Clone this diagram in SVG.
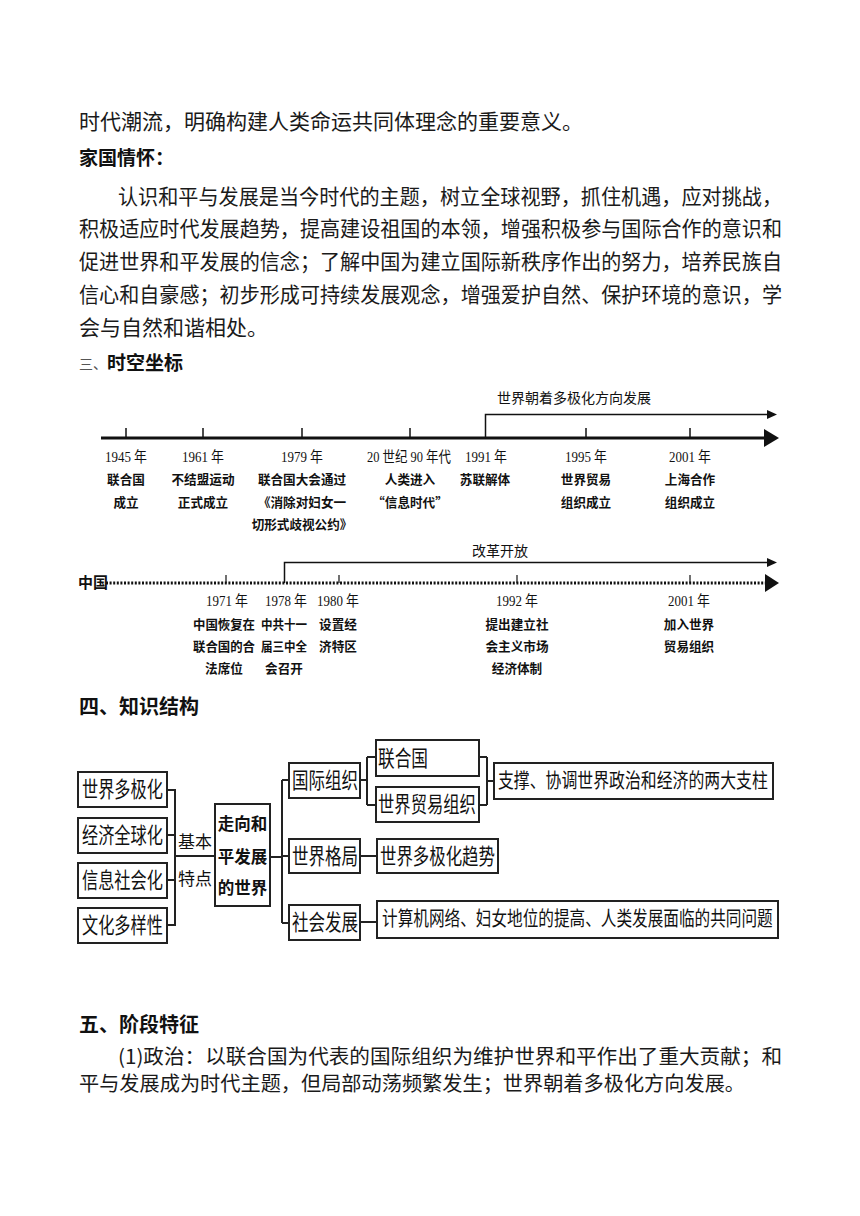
<svg xmlns="http://www.w3.org/2000/svg" width="860" height="1216" viewBox="0 0 860 1216">
<style>
.body{font-family:"Noto Sans CJK SC","Noto Sans",sans-serif;font-size:21px;fill:#1a1a1a}
.head{font-family:"Noto Sans CJK SC","Noto Sans",sans-serif;font-size:20px;font-weight:bold;fill:#111}
.yr{font-family:"Liberation Serif","Noto Sans CJK SC",serif;font-size:15px;fill:#111;text-anchor:middle}
.lb{font-family:"Noto Sans CJK SC",sans-serif;font-size:12.6px;font-weight:bold;fill:#111;text-anchor:middle}
.note{font-family:"Noto Sans CJK SC",sans-serif;font-size:14px;fill:#111;text-anchor:middle}
.bx{fill:#fff;stroke:#222;stroke-width:2}
.bt{font-family:"Noto Sans CJK SC",sans-serif;font-size:22px;fill:#111}
.ln{fill:none;stroke:#222;stroke-width:2}
.ax{fill:none;stroke:#111}
</style>
<rect width="860" height="1216" fill="#fff"/>

<g id="intro-text">
<text class="body" x="79" y="129">时代潮流，明确构建人类命运共同体理念的重要意义。</text>
<text class="head" x="79" y="165" style="font-size:19px">家国情怀：</text>
<text class="body" x="118" y="204" textLength="664" lengthAdjust="spacingAndGlyphs">认识和平与发展是当今时代的主题，树立全球视野，抓住机遇，应对挑战，</text>
<text class="body" x="79" y="236" textLength="703" lengthAdjust="spacingAndGlyphs">积极适应时代发展趋势，提高建设祖国的本领，增强积极参与国际合作的意识和</text>
<text class="body" x="79" y="269" textLength="703" lengthAdjust="spacingAndGlyphs">促进世界和平发展的信念；了解中国为建立国际新秩序作出的努力，培养民族自</text>
<text class="body" x="79" y="302" textLength="703" lengthAdjust="spacingAndGlyphs">信心和自豪感；初步形成可持续发展观念，增强爱护自然、保护环境的意识，学</text>
<text class="body" x="79" y="335">会与自然和谐相处。</text>
</g>

<g id="heading-3">
<text x="79" y="369" style="font-family:'Noto Sans CJK SC',sans-serif;font-size:14px;fill:#555">三、</text>
<text class="head" x="107" y="370" style="font-size:19px">时空坐标</text>
</g>

<g id="world-timeline">
<line class="ax" x1="101" y1="438" x2="766" y2="438" stroke-width="3"/>
<polygon points="764,429 779,438 764,447" fill="#111"/>
<path class="ax" d="M485.5,438 V414.5 H770" stroke-width="1.5"/>
<polygon points="767,410 777,414.5 767,419" fill="#111"/>
<text class="note" x="574" y="403">世界朝着多极化方向发展</text>
<g stroke="#111" stroke-width="1.5">
<line x1="126" y1="428" x2="126" y2="438"/>
<line x1="203" y1="428" x2="203" y2="438"/>
<line x1="302" y1="428" x2="302" y2="438"/>
<line x1="410" y1="428" x2="410" y2="438"/>
<line x1="586" y1="428" x2="586" y2="438"/>
<line x1="690" y1="428" x2="690" y2="438"/>
</g>
</g>
<g id="e1945"><text class="yr" x="126" y="462" textLength="42" lengthAdjust="spacingAndGlyphs">1945 年</text><text class="lb" x="126" y="484">联合国</text><text class="lb" x="126" y="507">成立</text></g>
<g id="e1961"><text class="yr" x="203" y="462" textLength="42" lengthAdjust="spacingAndGlyphs">1961 年</text><text class="lb" x="203" y="484">不结盟运动</text><text class="lb" x="203" y="507">正式成立</text></g>
<g id="e1979"><text class="yr" x="302" y="462" textLength="42" lengthAdjust="spacingAndGlyphs">1979 年</text><text class="lb" x="302" y="484">联合国大会通过</text><text class="lb" x="302" y="507">《消除对妇女一</text><text class="lb" x="302" y="529">切形式歧视公约》</text></g>
<g id="e1990s"><text class="yr" x="409" y="462" textLength="84" lengthAdjust="spacingAndGlyphs">20 世纪 90 年代</text><text class="lb" x="410" y="484">人类进入</text><text class="lb" x="410" y="507">“信息时代”</text></g>
<g id="e1991"><text class="yr" x="486" y="462" textLength="42" lengthAdjust="spacingAndGlyphs">1991 年</text><text class="lb" x="485" y="484">苏联解体</text></g>
<g id="e1995"><text class="yr" x="586" y="462" textLength="42" lengthAdjust="spacingAndGlyphs">1995 年</text><text class="lb" x="586" y="484">世界贸易</text><text class="lb" x="586" y="507">组织成立</text></g>
<g id="e2001w"><text class="yr" x="690" y="462" textLength="42" lengthAdjust="spacingAndGlyphs">2001 年</text><text class="lb" x="690" y="484">上海合作</text><text class="lb" x="690" y="507">组织成立</text></g>

<g id="china-timeline">
<text x="78" y="588" style="font-family:'Noto Sans CJK SC',sans-serif;font-size:15px;font-weight:bold;fill:#111">中国</text>
<line x1="106" y1="583" x2="767" y2="583" stroke="#111" stroke-width="3" stroke-dasharray="2 1.6"/>
<polygon points="765,574 779,583 765,592" fill="#111"/>
<path class="ax" d="M284.5,583 V562.5 H770" stroke-width="1.5"/>
<polygon points="767,558 777,562.5 767,567" fill="#111"/>
<text class="note" x="500" y="556">改革开放</text>
<g stroke="#111" stroke-width="1.2">
<line x1="226" y1="575" x2="226" y2="583"/>
<line x1="339" y1="575" x2="339" y2="583"/>
<line x1="517" y1="575" x2="517" y2="583"/>
<line x1="690" y1="575" x2="690" y2="583"/>
</g>
</g>
<g id="c1971"><text class="yr" x="227" y="606" textLength="42" lengthAdjust="spacingAndGlyphs">1971 年</text><text class="lb" x="224" y="629" textLength="62" lengthAdjust="spacingAndGlyphs">中国恢复在</text><text class="lb" x="224" y="651" textLength="62" lengthAdjust="spacingAndGlyphs">联合国的合</text><text class="lb" x="224" y="673">法席位</text></g>
<g id="c1978"><text class="yr" x="286" y="606" textLength="42" lengthAdjust="spacingAndGlyphs">1978 年</text><text class="lb" x="284" y="629" textLength="46" lengthAdjust="spacingAndGlyphs">中共十一</text><text class="lb" x="284" y="651" textLength="46" lengthAdjust="spacingAndGlyphs">届三中全</text><text class="lb" x="284" y="673">会召开</text></g>
<g id="c1980"><text class="yr" x="338" y="606" textLength="42" lengthAdjust="spacingAndGlyphs">1980 年</text><text class="lb" x="338" y="629">设置经</text><text class="lb" x="338" y="651">济特区</text></g>
<g id="c1992"><text class="yr" x="517" y="606" textLength="42" lengthAdjust="spacingAndGlyphs">1992 年</text><text class="lb" x="517" y="629">提出建立社</text><text class="lb" x="517" y="651">会主义市场</text><text class="lb" x="517" y="673">经济体制</text></g>
<g id="c2001"><text class="yr" x="689" y="606" textLength="42" lengthAdjust="spacingAndGlyphs">2001 年</text><text class="lb" x="689" y="629">加入世界</text><text class="lb" x="689" y="651">贸易组织</text></g>

<g id="heading-4"><text class="head" x="79" y="714">四、知识结构</text></g>

<g id="connectors">
<path class="ln" d="M167,790 H175 M167,835 H175 M167,880 H175 M167,925 H175 M175,789 V926 M175,856 H215"/>
<path class="ln" d="M270,857 H282 M282,780 V923 M282,780 H289 M282,856 H289 M282,923 H289"/>
<path class="ln" d="M360,780 H367 M367,757 V805 M367,757 H376 M367,805 H376"/>
<path class="ln" d="M479,757 H487 M479,805 H487 M487,757 V805 M487,781 H494"/>
<path class="ln" d="M360,856 H377 M360,922 H377"/>
</g>

<g id="n-multipolar"><rect class="bx" x="78" y="772" width="89" height="35"/><text class="bt" transform="translate(82,797) scale(0.736,1)">世界多极化</text></g>
<g id="n-globalization"><rect class="bx" x="78" y="818" width="89" height="35"/><text class="bt" transform="translate(82,843) scale(0.736,1)">经济全球化</text></g>
<g id="n-information"><rect class="bx" x="78" y="863" width="89" height="35"/><text class="bt" transform="translate(82,888) scale(0.736,1)">信息社会化</text></g>
<g id="n-culture"><rect class="bx" x="78" y="908" width="89" height="35"/><text class="bt" transform="translate(82,933) scale(0.736,1)">文化多样性</text></g>
<g id="n-basic"><text class="bt" x="178" y="848" style="font-size:17px">基本</text><text class="bt" x="178" y="885" style="font-size:17px">特点</text></g>
<g id="n-center"><rect class="bx" x="215" y="804" width="55" height="102"/>
<text class="bt" x="242.5" y="830" text-anchor="middle" style="font-size:16.5px;font-weight:bold">走向和</text>
<text class="bt" x="242.5" y="863" text-anchor="middle" style="font-size:16.5px;font-weight:bold">平发展</text>
<text class="bt" x="242.5" y="894" text-anchor="middle" style="font-size:16.5px;font-weight:bold">的世界</text></g>
<g id="n-intl"><rect class="bx" x="289" y="763" width="71" height="35"/><text class="bt" transform="translate(292,788) scale(0.75,1)">国际组织</text></g>
<g id="n-un"><rect class="bx" x="376" y="740" width="103" height="36"/><text class="bt" transform="translate(378,766) scale(0.758,1)">联合国</text></g>
<g id="n-wto"><rect class="bx" x="376" y="787" width="103" height="35"/><text class="bt" transform="translate(378,812) scale(0.742,1)">世界贸易组织</text></g>
<g id="n-pillars"><rect class="bx" x="494" y="763" width="279" height="36"/><text class="bt" transform="translate(498,788) scale(0.794,1)" style="font-size:20px">支撑、协调世界政治和经济的两大支柱</text></g>
<g id="n-pattern"><rect class="bx" x="289" y="839" width="71" height="34"/><text class="bt" transform="translate(292,864) scale(0.75,1)">世界格局</text></g>
<g id="n-trend"><rect class="bx" x="377" y="839" width="121" height="34"/><text class="bt" transform="translate(380,864) scale(0.747,1)">世界多极化趋势</text></g>
<g id="n-social"><rect class="bx" x="289" y="905" width="71" height="35"/><text class="bt" transform="translate(292,930) scale(0.75,1)">社会发展</text></g>
<g id="n-issues"><rect class="bx" x="377" y="901" width="401" height="37"/><text class="bt" transform="translate(382,926) scale(0.782,1)" style="font-size:20px">计算机网络、妇女地位的提高、人类发展面临的共同问题</text></g>

<g id="heading-5"><text class="head" x="79" y="1032">五、阶段特征</text></g>
<g id="stage-text">
<text class="body" x="118" y="1064" textLength="664" lengthAdjust="spacingAndGlyphs" style="font-size:20px">(1)政治：以联合国为代表的国际组织为维护世界和平作出了重大贡献；和</text>
<text class="body" x="79" y="1091" textLength="666" lengthAdjust="spacingAndGlyphs" style="font-size:20px">平与发展成为时代主题，但局部动荡频繁发生；世界朝着多极化方向发展。</text>
</g>
</svg>
